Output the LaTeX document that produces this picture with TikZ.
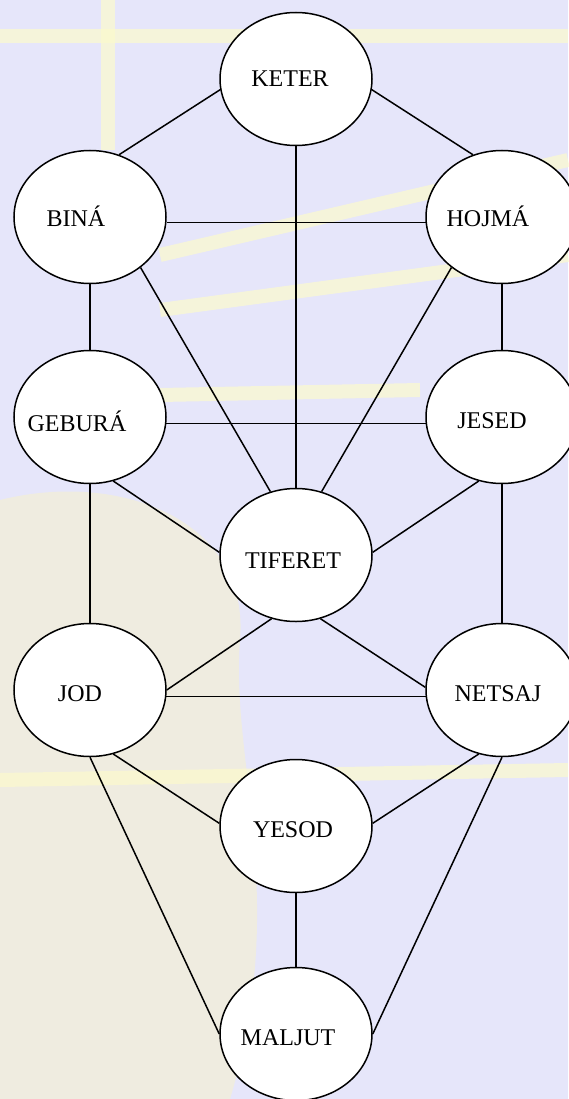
\documentclass[tikz,border=0pt]{standalone}
\usepackage{fontspec}
\setmainfont{Liberation Serif}
\usetikzlibrary{shapes.geometric}

\definecolor{lavbg}{RGB}{230,230,250}
\definecolor{paleband}{RGB}{252,250,205}
\definecolor{beige}{RGB}{245,241,208}

\tikzstyle{sefira} = [ellipse, draw, line width=1.5pt, fill=white, minimum width=152pt, minimum height=133pt, inner sep=0pt]
\tikzstyle{link} = [line width=1.5pt]
\tikzstyle{band} = [paleband, line width=14pt, opacity=0.7]
\tikzstyle{every label} = [font=\fontsize{24}{28}\selectfont, text height=16pt, text depth=0pt, inner sep=0pt]

\begin{document}
\begin{tikzpicture}[x=1pt, y=-1pt]
	\fill[lavbg] (0,0) rectangle (568,1099);
	\useasboundingbox (0,0) rectangle (568,1099);
	
	% background
	\fill[beige, opacity=0.6] (0,500) .. controls (120,470) and (250,520) .. (240,640) .. controls (230,760) and (290,900) .. (230,1099) -- (0,1099) -- cycle;
	\draw[band] (0,36) -- (568,36);
	\draw[band] (108,0) -- (108,150);
	\draw[band] (160,255) -- (568,160);
	\draw[band] (160,310) -- (568,255);
	\draw[band] (160,395) -- (420,390);
	\draw[band] (0,780) -- (568,770);
	
	\node[sefira, label={[xshift=-6pt]center:KETER}] (keter) at (296,79) {};
	\node[sefira, label={[xshift=-14pt,yshift=-2pt]center:BINÁ}] (bina) at (90,217) {};
	\node[sefira, label={[xshift=-14pt,yshift=-2pt]center:HOJMÁ}] (hojma) at (502,217) {};
	\node[sefira, label={[xshift=-13pt,yshift=-6pt]center:GEBURÁ}] (gebura) at (90,417) {};
	\node[sefira, label={[xshift=-10pt,yshift=-3pt]center:JESED}] (jesed) at (502,417) {};
	\node[sefira, label={[xshift=-3pt,yshift=-5pt]center:TIFERET}] (tiferet) at (296,555) {};
	\node[sefira, label={[xshift=-10pt,yshift=-3pt]center:JOD}] (jod) at (90,690) {};
	\node[sefira, label={[xshift=-4pt,yshift=-3pt]center:NETSAJ}] (netsaj) at (502,690) {};
	\node[sefira, label={[xshift=-3pt,yshift=-3pt]center:YESOD}] (yesod) at (296,826) {};
	\node[sefira, label={[xshift=-8pt,yshift=-3pt]center:MALJUT}] (maljut) at (296,1034) {};
	
	\draw[link] (keter.188) -- (bina.65);
	\draw[link] (keter.-8) -- (hojma.115);
	\draw[link] (keter.south) -- (tiferet.north);
	\draw[link] (bina.-4) -- (hojma.184);
	\draw[link] (bina.south) -- (gebura.north);
	\draw[link] (hojma.south) -- (jesed.north);
	\draw[link] (bina.-45) -- (tiferet.112);
	\draw[link] (hojma.225) -- (tiferet.68);
	\draw[link] (gebura.-5) -- (jesed.185);
	\draw[link] (gebura.-70) -- (tiferet.178);
	\draw[link] (jesed.250) -- (tiferet.2);
	\draw[link] (gebura.south) -- (jod.north);
	\draw[link] (jesed.south) -- (netsaj.north);
	\draw[link] (tiferet.249) -- (jod.east);
	\draw[link] (tiferet.-69) -- (netsaj.178);
	\draw[link] (jod.-5) -- (netsaj.185);
	\draw[link] (jod.-70) -- (yesod.178);
	\draw[link] (netsaj.250) -- (yesod.2);
	\draw[link] (jod.south) -- (maljut.west);
	\draw[link] (netsaj.south) -- (maljut.east);
	\draw[link] (yesod.south) -- (maljut.north);
\end{tikzpicture}
\end{document}
